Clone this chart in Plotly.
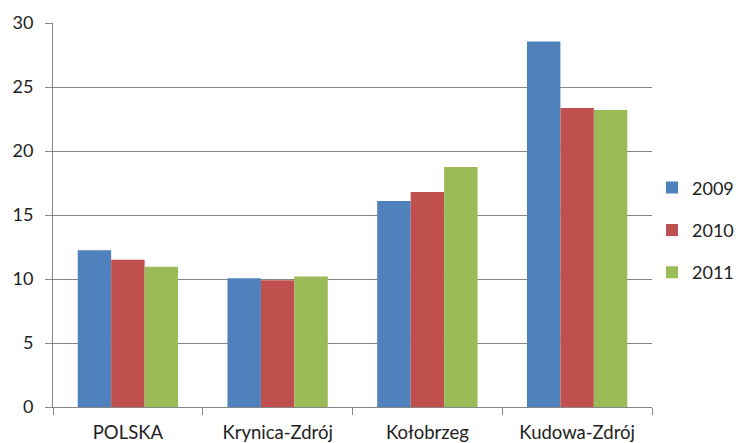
import plotly.graph_objects as go

categories = ["POLSKA", "Krynica-Zdrój", "Kołobrzeg", "Kudowa-Zdrój"]
years = ["2009", "2010", "2011"]
v2009 = [12.25, 10.05, 16.1, 28.55]
v2010 = [11.5, 9.9, 16.8, 23.35]
v2011 = [10.95, 10.2, 18.75, 23.2]
colors = ["#4F81BD", "#C0504D", "#9BBB59"]

fig = go.Figure()
for i, (name, vals) in enumerate(zip(years, [v2009, v2010, v2011])):
    fig.add_trace(go.Bar(
        x=categories, y=vals, name=name,
        marker=dict(color=colors[i], line=dict(width=0)),
        legendgroup=name,
    ))

# page body adds an 8px margin, so the figure is sized to fit the rest
fig.update_layout(
    width=741, height=435,
    margin=dict(l=45, r=97, t=15, b=36, autoexpand=False),
    plot_bgcolor="white", paper_bgcolor="white",
    barmode="group", bargap=0.33, bargroupgap=0,
    font=dict(family="Lato, Open Sans, sans-serif", size=17, color="#222"),
    legend=dict(x=1.0, y=0.46, xanchor="left", yanchor="middle",
                tracegroupgap=16, font=dict(size=18)),
    showlegend=True,
)
fig.update_xaxes(
    automargin=False,
    showline=True, linecolor="#868686", linewidth=1,
    ticks="outside", tickson="boundaries", ticklen=7, tickcolor="#868686",
    showgrid=False, tickfont=dict(size=18.5), ticklabelstandoff=9,
)
fig.update_yaxes(
    automargin=False,
    range=[0, 30], dtick=5, showline=True, linecolor="#868686",
    ticks="outside", ticklen=7, tickcolor="#868686",
    showgrid=True, gridcolor="#868686", gridwidth=1, zeroline=False,
    tickfont=dict(size=18), ticklabelstandoff=8,
)

fig.write_html("out.html")
